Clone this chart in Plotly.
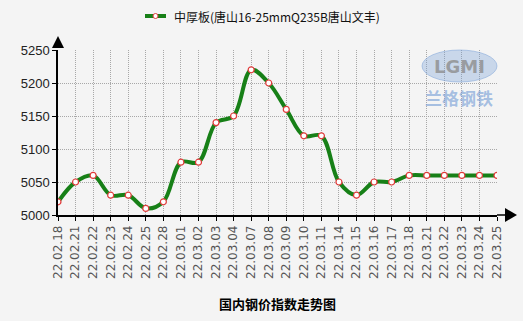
import plotly.graph_objects as go

dates = ["22.02.18","22.02.21","22.02.22","22.02.23","22.02.24","22.02.25","22.02.28",
         "22.03.01","22.03.02","22.03.03","22.03.04","22.03.07","22.03.08","22.03.09",
         "22.03.10","22.03.11","22.03.14","22.03.15","22.03.16","22.03.17","22.03.18",
         "22.03.21","22.03.22","22.03.23","22.03.24","22.03.25"]
prices = [5020,5050,5060,5030,5030,5010,5020,5080,5080,5140,5150,5220,5200,5160,
          5120,5120,5050,5030,5050,5050,5060,5060,5060,5060,5060,5060]
series_name = "中厚板(唐山16-25mmQ235B唐山文丰)"
y_ticks = [5000, 5050, 5100, 5150, 5200, 5250]
chart_title = "国内钢价指数走势图"

FONT = "Noto Sans CJK SC, DejaVu Sans, sans-serif"
GREEN = "#178017"
RED = "#e03a3a"

W, H = 523, 321
L, R, T, B = 58, 26, 50, 106
PW, PH = W - L - R, H - T - B

def px(xp):
    return (xp - L) / PW

def py(yp):
    return (H - B - yp) / PH

fig = go.Figure()
fig.add_trace(go.Scatter(
    x=list(range(len(dates))), y=prices, name=series_name,
    mode="lines+markers",
    line=dict(color=GREEN, width=4, shape="spline", smoothing=1.0),
    marker=dict(size=6, color="white", line=dict(color=RED, width=1.2)),
    showlegend=False,
))

fig.update_layout(
    width=W, height=H,
    margin=dict(l=L, r=R, t=T, b=B),
    paper_bgcolor="#f4f4f4", plot_bgcolor="#f4f4f4",
    font=dict(family=FONT, size=12, color="#222"),
    showlegend=False,
    xaxis=dict(
        range=[0, len(dates) - 1],
        tickmode="array", tickvals=list(range(len(dates))), ticktext=dates,
        tickangle=-90, tickfont=dict(size=12, color="#555", family="DejaVu Sans"),
        ticks="outside", ticklen=4, tickcolor="#000",
        showgrid=True, gridcolor="#a8a8a8", griddash="1px,1px", gridwidth=1,
        showline=True, linecolor="#000", linewidth=1.5,
        zeroline=False, automargin=False,
    ),
    yaxis=dict(
        range=[5000, 5250], tickvals=y_ticks,
        tickfont=dict(size=13, color="#222", family="Liberation Sans"),
        ticks="outside", ticklen=4, tickcolor="#000",
        showgrid=True, gridcolor="#a8a8a8", griddash="1px,1px", gridwidth=1,
        showline=True, linecolor="#000", linewidth=1.5,
        zeroline=False, automargin=False,
    ),
)

# axis extensions & arrow heads
fig.add_shape(type="line", xref="paper", yref="paper", x0=1, x1=px(508), y0=0, y1=0,
              line=dict(color="#000", width=1.5))
fig.add_shape(type="path", xref="paper", yref="paper",
              path=f"M {px(505)} {py(208)} L {px(517)} {py(215)} L {px(505)} {py(222)} Z",
              fillcolor="#000", line=dict(color="#000", width=0))
fig.add_shape(type="path", xref="paper", yref="paper",
              path=f"M {px(52)} {py(48)} L {px(58)} {py(36)} L {px(64)} {py(48)} Z",
              fillcolor="#000", line=dict(color="#000", width=0))

# legend (drawn manually so it doesn't push the margins)
fig.add_shape(type="line", xref="paper", yref="paper", x0=px(145), x1=px(166),
              y0=py(16), y1=py(16), line=dict(color=GREEN, width=4))
fig.add_shape(type="circle", xref="paper", yref="paper", x0=px(153), x1=px(158),
              y0=py(18.5), y1=py(13.5), fillcolor="white", line=dict(color=RED, width=1))
fig.add_annotation(x=px(172), y=py(16), xref="paper", yref="paper", text=series_name,
                   xanchor="left", yanchor="middle", showarrow=False,
                   font=dict(size=12, color="#111", family=FONT))

# watermark logo
fig.add_shape(type="circle", xref="paper", yref="paper",
              x0=px(422), x1=px(497), y0=py(82), y1=py(50),
              fillcolor="rgba(120,160,215,0.35)", line=dict(color="rgba(120,160,215,0.5)", width=1))
fig.add_annotation(x=px(459), y=py(66), xref="paper", yref="paper", text="<b>LGMI</b>",
                   xanchor="center", yanchor="middle",
                   showarrow=False, font=dict(size=18, color="rgba(140,140,140,0.8)", family="DejaVu Sans"))
fig.add_annotation(x=px(459), y=py(97), xref="paper", yref="paper", text="<b>兰格钢铁</b>",
                   xanchor="center", yanchor="middle",
                   showarrow=False, font=dict(size=17, color="rgba(120,160,215,0.65)", family=FONT))

# bottom title
fig.add_annotation(x=0.5, y=py(303), xref="paper", yref="paper", text="<b>" + chart_title + "</b>",
                   xanchor="center", showarrow=False, yanchor="middle",
                   font=dict(size=13, color="#000", family=FONT))

fig.write_html("out.html")
